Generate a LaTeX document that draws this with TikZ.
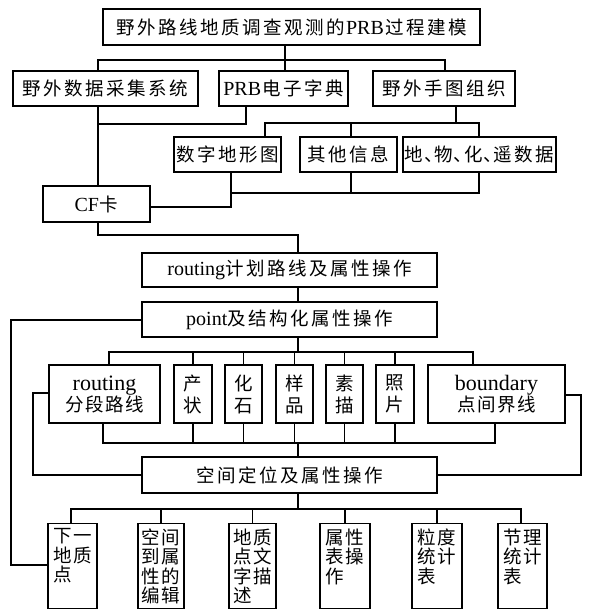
\documentclass[tikz,border=0pt]{standalone}
\usepackage{fontspec}
\setmainfont{Liberation Serif}
\newfontfamily\cjk{Noto Sans CJK SC}
\newlength\chgap \setlength\chgap{2.5pt}
\makeatletter
\def\spc#1{\spc@a#1\spc@end}
\def\spc@a#1#2\spc@end{#1\if\relax\detokenize{#2}\relax\else\hspace{\chgap}\spc@a#2\spc@end\fi}
\makeatother
\def\spcc#1{{\setlength\chgap{1.6pt}\spc{#1}}}
\newcommand\dun{\makebox[0.5em][l]{、}}
\newcommand\latw[1]{{\rmfamily\fontsize{20}{22}\selectfont #1}}
\newcommand\latb[1]{{\rmfamily\fontsize{22}{22}\selectfont #1}}
\newcommand\colbox[1]{\vbox to 85pt{\vskip5pt #1\vss}}
\begin{document}
\begin{tikzpicture}[x=1pt,y=-1pt,
  box/.style={draw,line width=1.2pt,inner sep=0pt,align=center,font=\cjk\fontsize{18.5}{21}\selectfont},
  vbox/.style={box,font=\cjk\fontsize{18.5}{22}\selectfont,minimum height=58pt},
  gbox/.style={box,font=\cjk\fontsize{18.5}{19.5}\selectfont,minimum height=85pt,anchor=north},
  conn/.style={line width=1.1pt}]
\useasboundingbox (0,0) rectangle (589,613);
% nodes
\node[box,minimum width=377pt,minimum height=36pt] (T) at (291.5,27) {\spc{野外路线地质调查观测的}\hspace{1.5pt}\latw{PRB}\hspace{1.5pt}\spc{过程建模}};
\node[box,minimum width=185pt,minimum height=35pt] (A) at (105.5,88.5) {\spc{野外数据采集系统}};
\node[box,minimum width=129pt,minimum height=35pt] (B) at (283.5,88.5) {\latw{PRB}\hspace{1pt}\spc{电子字典}};
\node[box,minimum width=142pt,minimum height=35pt] (C) at (444,88.5) {\spc{野外手图组织}};
\node[box,minimum width=107pt,minimum height=35pt] (D) at (227.5,154.5) {\spc{数字地形图}};
\node[box,minimum width=97pt,minimum height=35pt] (E) at (348.5,154.5) {\spc{其他信息}};
\node[box,minimum width=153pt,minimum height=35pt] (F) at (479.5,154.5) {地\hspace{1pt}\dun\hspace{1pt}物\hspace{1pt}\dun\hspace{1pt}化\hspace{1pt}\dun\hspace{1pt}遥\hspace{2.5pt}数\hspace{2.5pt}据};
\node[box,minimum width=107pt,minimum height=36pt] (CF) at (96.5,204) {\latw{CF}\hspace{1pt}卡};
\node[box,minimum width=295pt,minimum height=34pt] (R) at (289.5,270) {\latw{routing}\spc{计划路线及属性操作}};
\node[box,minimum width=295pt,minimum height=35pt] (P) at (289.5,319.5) {\latw{point}\spc{及结构化属性操作}};
\node[vbox,minimum width=111pt,font=\cjk\fontsize{18.5}{21}\selectfont] (H1) at (104.5,394) {\latb{routing}\\\spcc{分段路线}};
\node[vbox,minimum width=38pt] (H2) at (193,394) {产\\状};
\node[vbox,minimum width=37pt] (H3) at (243.5,394) {化\\石};
\node[vbox,minimum width=37pt] (H4) at (294.5,394) {样\\品};
\node[vbox,minimum width=37pt] (H5) at (344.5,394) {素\\描};
\node[vbox,minimum width=38pt] (H6) at (395,394) {照\\片};
\node[vbox,minimum width=137pt,font=\cjk\fontsize{18.5}{21}\selectfont] (H7) at (496.5,394) {\latb{boundary}\\\spcc{点间界线}};
\node[box,minimum width=295pt,minimum height=36pt] (S) at (289.5,475) {\spc{空间定位及属性操作}};
\node[gbox,minimum width=49pt] (G1) at (72.5,523) {\colbox{\hbox{\spcc{下一}}\hbox{\spcc{地质}}\hbox{点}}};
\node[gbox,minimum width=46pt] (G2) at (161,523) {\colbox{\hbox{\spcc{空间}}\hbox{\spcc{到属}}\hbox{\spcc{性的}}\hbox{\spcc{编辑}}}};
\node[gbox,minimum width=47pt] (G3) at (252.5,523) {\colbox{\hbox{\spcc{地质}}\hbox{\spcc{点文}}\hbox{\spcc{字描}}\hbox{述}}};
\node[gbox,minimum width=50pt] (G4) at (345,523) {\colbox{\hbox{\spcc{属性}}\hbox{\spcc{表操}}\hbox{作}}};
\node[gbox,minimum width=50pt] (G5) at (437,523) {\colbox{\hbox{\spcc{粒度}}\hbox{\spcc{统计}}\hbox{表}}};
\node[gbox,minimum width=49pt] (G6) at (522.5,523) {\colbox{\hbox{\spcc{节理}}\hbox{\spcc{统计}}\hbox{表}}};
% junction coordinates
\coordinate (hA) at (98,60);
\coordinate (hB) at (285,60);
\coordinate (hC) at (445,60);
\coordinate (aB) at (246,124);
\coordinate (cC) at (456,123);
\coordinate (cD) at (265,123);
\coordinate (cE) at (351,123);
\coordinate (cF) at (479,123);
\coordinate (dD) at (231,193);
\coordinate (dE) at (351,193);
\coordinate (dF) at (479,193);
\coordinate (dCF) at (231,207);
\coordinate (e1) at (98,235);
\coordinate (e2) at (298,235);
\coordinate (l1) at (11,320);
\coordinate (l2) at (11,565);
\coordinate (f0) at (298,352);
\coordinate (fL) at (109,352);
\coordinate (fR) at (473,352);
\coordinate (g0) at (298,443);
\coordinate (gL) at (103,443);
\coordinate (gR) at (495,443);
\coordinate (m1) at (33,393);
\coordinate (m2) at (33,475);
\coordinate (n1) at (581,395);
\coordinate (n2) at (581,475);
\coordinate (k0) at (298,509);
\coordinate (kL) at (71,509);
\coordinate (kR) at (521,509);
% connectors
\draw[conn] (T.south -| hB) -- (hB);
\draw[conn] (A.north -| hA) -- (hA) -- (hC) -- (C.north -| hC);
\draw[conn] (hB) -- (B.north -| hB);
\draw[conn] (A.south -| hA) -- (CF.north -| hA);
\draw[conn] (B.south -| aB) -- (aB) -- (aB -| hA);
\draw[conn] (C.south -| cC) -- (cC);
\draw[conn] (D.north -| cD) -- (cD) -- (cF) -- (F.north -| cF);
\draw[conn] (cE) -- (E.north -| cE);
\draw[conn] (F.south -| dF) -- (dF) -- (dD);
\draw[conn] (E.south -| dE) -- (dE);
\draw[conn] (D.south -| dD) -- (dCF) -- (CF.east |- dCF);
\draw[conn] (CF.south -| e1) -- (e1) -- (e2) -- (R.north -| e2);
\draw[conn] (R.south -| e2) -- (P.north -| e2);
\draw[conn] (P.west |- l1) -- (l1) -- (l2) -- (G1.west |- l2);
\draw[conn] (P.south -| f0) -- (f0);
\draw[conn] (H1.north -| fL) -- (fL) -- (fR) -- (H7.north -| fR);
\foreach \h in {H2,H3,H4,H5,H6} {
  \draw[conn] (\h.north) -- (\h.north |- f0);
  \draw[conn] (\h.south) -- (\h.south |- g0);
}
\draw[conn] (H1.south -| gL) -- (gL) -- (gR) -- (H7.south -| gR);
\draw[conn] (g0) -- (S.north -| g0);
\draw[conn] (H1.west |- m1) -- (m1) -- (m2) -- (S.west |- m2);
\draw[conn] (H7.east |- n1) -- (n1) -- (n2) -- (S.east |- n2);
\draw[conn] (S.south -| k0) -- (k0);
\draw[conn] (G1.north -| kL) -- (kL) -- (kR) -- (G6.north -| kR);
\foreach \g in {G2,G3,G4,G5} {
  \draw[conn] (\g.north) -- (\g.north |- k0);
}
\end{tikzpicture}
\end{document}
